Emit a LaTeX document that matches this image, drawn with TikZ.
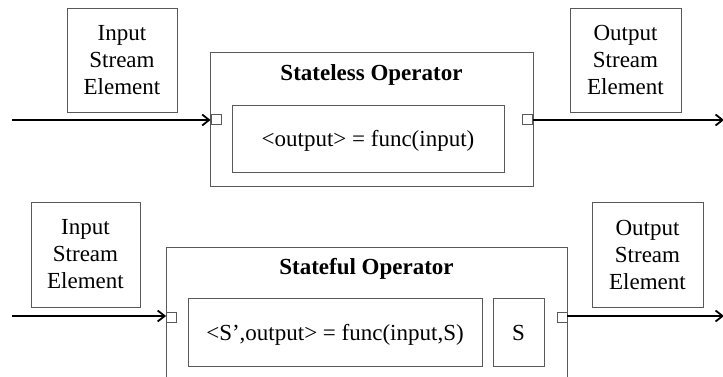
\documentclass[tikz,border=0pt]{standalone}
\usepackage{fontspec}
\setmainfont{Liberation Serif}
\usetikzlibrary{arrows.meta}
\begin{document}
\begin{tikzpicture}[x=1pt,y=-1pt,
  box/.style={draw=black!65, line width=0.8pt, fill=white, inner sep=0pt, align=center,
    font=\fontsize{23}{27}\selectfont},
  onel/.style={text height=16pt, text depth=0pt},
  portbox/.style={draw=black!65, line width=0.8pt, fill=white, minimum size=10pt, inner sep=0pt},
  flow/.style={line width=2.3pt, -{Straight Barb[length=7pt,width=11pt,line width=1.8pt]}},
  ttl/.style={font=\fontsize{23}{27}\selectfont\bfseries, inner sep=0pt, anchor=base}]
\clip (0,0) rectangle (723,377);
% ---- stateless (top) ----
\node[box, minimum width=110pt, minimum height=104pt] (in1) at (122,60) {Input\\Stream\\Element};
\node[box, minimum width=111pt, minimum height=104pt] (out1) at (625.5,60) {Output\\Stream\\Element};
\node[box, minimum width=323pt, minimum height=134pt] (op1) at (371.5,119) {};
\node[ttl] (t1) at (371.5,81) {Stateless Operator};
\node[box, onel, minimum width=272pt, minimum height=67pt] (f1) at (368,138.5) {<output> = func(input)};
\node[portbox] (pin1) at (216,119) {};
\node[portbox] (pout1) at (527.5,119) {};
\coordinate (src1) at (12,120);
\coordinate (dst1) at (724,120);
\draw[flow] (src1) -- (pin1.west |- src1);
\draw[flow] (pout1.east |- dst1) -- (dst1);
% ---- stateful (bottom) ----
\node[box, minimum width=109pt, minimum height=105pt] (in2) at (85.5,254.5) {Input\\Stream\\Element};
\node[box, minimum width=111pt, minimum height=105pt] (out2) at (647.5,254.5) {Output\\Stream\\Element};
\node[box, minimum width=401pt, minimum height=153pt] (op2) at (366.5,323.5) {};
\node[ttl] (t2) at (366.5,274) {Stateful Operator};
\node[box, onel, minimum width=294pt, minimum height=68pt] (f2) at (335,332) {<S’,output> = func(input,S)};
\node[box, onel, minimum width=51pt, minimum height=68pt] (s2) at (518.5,332) {S};
\node[portbox] (pin2) at (171.5,317) {};
\node[portbox] (pout2) at (562,317) {};
\coordinate (src2) at (12,316);
\coordinate (dst2) at (724,316);
\draw[flow] (src2) -- (pin2.west |- src2);
\draw[flow] (pout2.east |- dst2) -- (dst2);
\end{tikzpicture}
\end{document}
